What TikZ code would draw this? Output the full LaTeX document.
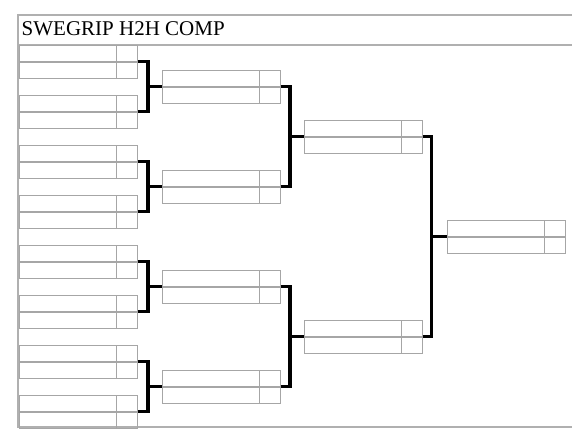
\documentclass[tikz,border=0pt]{standalone}
\usepackage{fontspec}
\setmainfont{Liberation Serif}
\usetikzlibrary{positioning,calc}
\definecolor{gridgray}{RGB}{176,176,176}
\definecolor{cellgray}{RGB}{166,166,166}

\tikzset{
  slot/.style={draw=cellgray, line width=1.3pt, rectangle, anchor=west,
    minimum width=118pt, minimum height=33pt, inner sep=0pt,
    path picture={
      \draw[cellgray, line width=1.7pt] (path picture bounding box.west) -- (path picture bounding box.east);
      \draw[cellgray, line width=1.3pt] ($(path picture bounding box.north east)+(-21pt,0)$) -- ($(path picture bounding box.south east)+(-21pt,0)$);
    }},
  wire/.style={line width=3.3pt, black},
  sheet/.style={gridgray, line width=1.2pt},
}

\begin{document}
\begin{tikzpicture}[x=1pt, y=-1pt]
    \useasboundingbox (0,0) rectangle (572,441);

    % sheet lines and title
    \draw[sheet] (18,14) -- (18,428);
    \draw[sheet] (18,15) -- (572,15);
    \draw[sheet] (18,45) -- (572,45);
    \draw[sheet] (18,427) -- (572,427);
    \node[anchor=base west, inner sep=0pt, font=\fontsize{21}{25}\selectfont] (title) at (21.5,36) {SWEGRIP H2H COMP};

    % first round
    \node[slot] (r1a) at (18.5,61.7) {};
    \node[slot] (r1b) at (18.5,111.7) {};
    \node[slot] (r1c) at (18.5,161.7) {};
    \node[slot] (r1d) at (18.5,211.7) {};
    \node[slot] (r1e) at (18.5,261.7) {};
    \node[slot] (r1f) at (18.5,311.7) {};
    \node[slot] (r1g) at (18.5,361.7) {};
    \node[slot] (r1h) at (18.5,411.7) {};

    % quarter finals
    \node[slot] (r2a) at (162,86.7) {};
    \node[slot] (r2b) at (162,186.7) {};
    \node[slot] (r2c) at (162,286.7) {};
    \node[slot] (r2d) at (162,386.7) {};

    % semi finals
    \node[slot] (r3a) at (304,136.7) {};
    \node[slot] (r3b) at (304,336.7) {};

    % final
    \node[slot] (fin) at (446.5,236.7) {};

    % brackets
    \draw[wire] (r1a.east) -| ($(r2a.west)+(-14,0)$) |- (r1b.east);
    \draw[wire] (r2a.west) -- ++(-14,0);
    \draw[wire] (r1c.east) -| ($(r2b.west)+(-14,0)$) |- (r1d.east);
    \draw[wire] (r2b.west) -- ++(-14,0);
    \draw[wire] (r1e.east) -| ($(r2c.west)+(-14,0)$) |- (r1f.east);
    \draw[wire] (r2c.west) -- ++(-14,0);
    \draw[wire] (r1g.east) -| ($(r2d.west)+(-14,0)$) |- (r1h.east);
    \draw[wire] (r2d.west) -- ++(-14,0);

    \draw[wire] (r2a.east) -| ($(r3a.west)+(-14,0)$) |- (r2b.east);
    \draw[wire] (r3a.west) -- ++(-14,0);
    \draw[wire] (r2c.east) -| ($(r3b.west)+(-14,0)$) |- (r2d.east);
    \draw[wire] (r3b.west) -- ++(-14,0);

    \draw[wire] (r3a.east) -| ($(fin.west)+(-15,0)$) |- (r3b.east);
    \draw[wire] (fin.west) -- ++(-15,0);
\end{tikzpicture}
\end{document}
